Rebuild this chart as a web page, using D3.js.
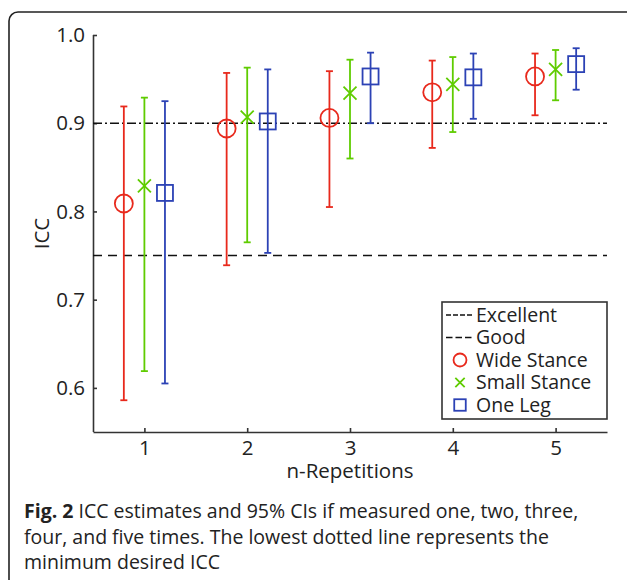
<!DOCTYPE html>
<html><head><meta charset="utf-8">
<script src="https://cdn.jsdelivr.net/npm/d3@7"></script>
<style>body{margin:0;background:#fff}svg{display:block}</style>
</head><body>
<script>
const reps = [1, 2, 3, 4, 5];
const seriesNames = ["Wide Stance", "Small Stance", "One Leg"];
const wideMean  = [0.809, 0.894, 0.906, 0.935, 0.953];
const wideLo    = [0.586, 0.739, 0.805, 0.872, 0.909];
const wideHi    = [0.919, 0.957, 0.959, 0.971, 0.979];
const smallMean = [0.829, 0.907, 0.934, 0.944, 0.961];
const smallLo   = [0.619, 0.765, 0.860, 0.890, 0.926];
const smallHi   = [0.929, 0.963, 0.972, 0.975, 0.983];
const legMean   = [0.821, 0.902, 0.953, 0.952, 0.967];
const legLo     = [0.605, 0.753, 0.900, 0.905, 0.938];
const legHi     = [0.925, 0.961, 0.980, 0.979, 0.985];
const yTicks = [0.6, 0.7, 0.8, 0.9, 1.0];
const thresholds = [{name: "Excellent", value: 0.9}, {name: "Good", value: 0.75}];

const W = 627, H = 580;
const svg = d3.select("body").append("svg").attr("width", W).attr("height", H);
const font = "'Open Sans', 'Noto Sans', sans-serif";
const ink = "#222";

// outer rounded frame
svg.append("rect").attr("x", 9).attr("y", 12).attr("width", 640).attr("height", 640)
  .attr("rx", 9).attr("fill", "none").attr("stroke", ink).attr("stroke-width", 1.6);

const m = {l: 93, r: 607, t: 35, b: 432};
const x = d3.scaleLinear().domain([0.5, 5.5]).range([m.l, m.r]);
const y = d3.scaleLinear().domain([0.55, 1.0]).range([m.b, m.t]);

const colors = ["#e8291c", "#5fcc00", "#2c42b5"];
const offsets = [-0.2, 0, 0.2];
const series = [
  {mean: wideMean, lo: wideLo, hi: wideHi},
  {mean: smallMean, lo: smallLo, hi: smallHi},
  {mean: legMean, lo: legLo, hi: legHi}
];

// axes
const yAxis = d3.axisLeft(y).tickValues(yTicks).tickFormat(d3.format(".1f")).tickSizeInner(-4).tickSizeOuter(0).tickPadding(8);
const gy = svg.append("g").attr("transform", `translate(${m.l},0)`).call(yAxis);
const xAxis = d3.axisBottom(x).tickValues(reps).tickFormat(d3.format("d")).tickSizeInner(-4).tickSizeOuter(0).tickPadding(8);
const gx = svg.append("g").attr("transform", `translate(0,${m.b})`).call(xAxis);
[gx, gy].forEach(g => {
  g.select(".domain").attr("stroke", "#333").attr("stroke-width", 1.6);
  g.selectAll(".tick line").attr("stroke", "#333").attr("stroke-width", 1.6);
  g.selectAll(".tick text").attr("font-family", font).attr("font-size", 20.5).attr("fill", ink);
});
gy.select(".domain").attr("d", `M0.5,${y(0.55)}V${y(1.0)}`);

svg.append("text").attr("transform", `translate(49,${(m.t + m.b) / 2}) rotate(-90)`)
  .attr("text-anchor", "middle").attr("font-family", font).attr("font-size", 20.5).attr("fill", ink).text("ICC");
svg.append("text").attr("x", x(3)).attr("y", 478).attr("text-anchor", "middle")
  .attr("font-family", font).attr("font-size", 20.5).attr("fill", ink).text("n-Repetitions");

// threshold lines
const dashes = ["9,3,2,3", "9,6"];
thresholds.forEach((t, i) => {
  svg.append("line").attr("x1", m.l).attr("x2", m.r).attr("y1", y(t.value)).attr("y2", y(t.value))
    .attr("stroke", "#111").attr("stroke-width", 1.6).attr("stroke-dasharray", dashes[i]);
});

// error bars and markers
function marker(g, kind, cx, cy, color, s) {
  if (kind === 0) g.append("circle").attr("cx", cx).attr("cy", cy).attr("r", 9 * s).attr("fill", "none").attr("stroke", color).attr("stroke-width", 1.8);
  else if (kind === 1) {
    const d = 6.5 * s;
    g.append("path").attr("d", `M${cx - d},${cy - d}L${cx + d},${cy + d}M${cx - d},${cy + d}L${cx + d},${cy - d}`).attr("stroke", color).attr("stroke-width", 1.8).attr("fill", "none");
  } else {
    const d = 8 * s;
    g.append("rect").attr("x", cx - d).attr("y", cy - d).attr("width", 2 * d).attr("height", 2 * d).attr("fill", "none").attr("stroke", color).attr("stroke-width", 1.8);
  }
}
series.forEach((s, k) => {
  const g = svg.append("g");
  reps.forEach((r, i) => {
    const cx = x(r + offsets[k]);
    g.append("line").attr("x1", cx).attr("x2", cx).attr("y1", y(s.lo[i])).attr("y2", y(s.hi[i])).attr("stroke", colors[k]).attr("stroke-width", 1.8);
    [s.lo[i], s.hi[i]].forEach(v => g.append("line").attr("x1", cx - 3.5).attr("x2", cx + 3.5).attr("y1", y(v)).attr("y2", y(v)).attr("stroke", colors[k]).attr("stroke-width", 1.8));
    marker(g, k, cx, y(s.mean[i]), colors[k], 1);
  });
});

// legend
const lg = svg.append("g");
lg.append("rect").attr("x", 442).attr("y", 302).attr("width", 165).attr("height", 117).attr("fill", "#fff").attr("stroke", "#333").attr("stroke-width", 1.6);
const rowY = [315, 337.5, 360, 382.5, 405];
const legFont = 19.5;
thresholds.forEach((t, i) => {
  lg.append("line").attr("x1", 446).attr("x2", 474).attr("y1", rowY[i]).attr("y2", rowY[i]).attr("stroke", "#111").attr("stroke-width", 1.6).attr("stroke-dasharray", i === 0 ? "5,2" : "6.5,3");
  lg.append("text").attr("x", 476).attr("y", rowY[i]).attr("dy", "0.35em").attr("font-family", font).attr("font-size", legFont).attr("fill", ink).text(t.name);
});
seriesNames.forEach((n, k) => {
  marker(lg, k, 460, rowY[k + 2], colors[k], 0.72);
  lg.append("text").attr("x", 476).attr("y", rowY[k + 2]).attr("dy", "0.35em").attr("font-family", font).attr("font-size", legFont).attr("fill", ink).text(n);
});

// caption
const capLines = [
  [{t: "Fig. 2", b: true}, {t: " ICC estimates and 95% CIs if measured one, two, three,", b: false}],
  [{t: "four, and five times. The lowest dotted line represents the", b: false}],
  [{t: "minimum desired ICC", b: false}]
];
capLines.forEach((line, i) => {
  const tx = svg.append("text").attr("x", 24).attr("y", 518 + i * 25.5).attr("font-family", font).attr("font-size", 19.5).attr("fill", ink);
  line.forEach(p => tx.append("tspan").attr("font-weight", p.b ? 700 : 400).text(p.t));
});
</script>
</body></html>
